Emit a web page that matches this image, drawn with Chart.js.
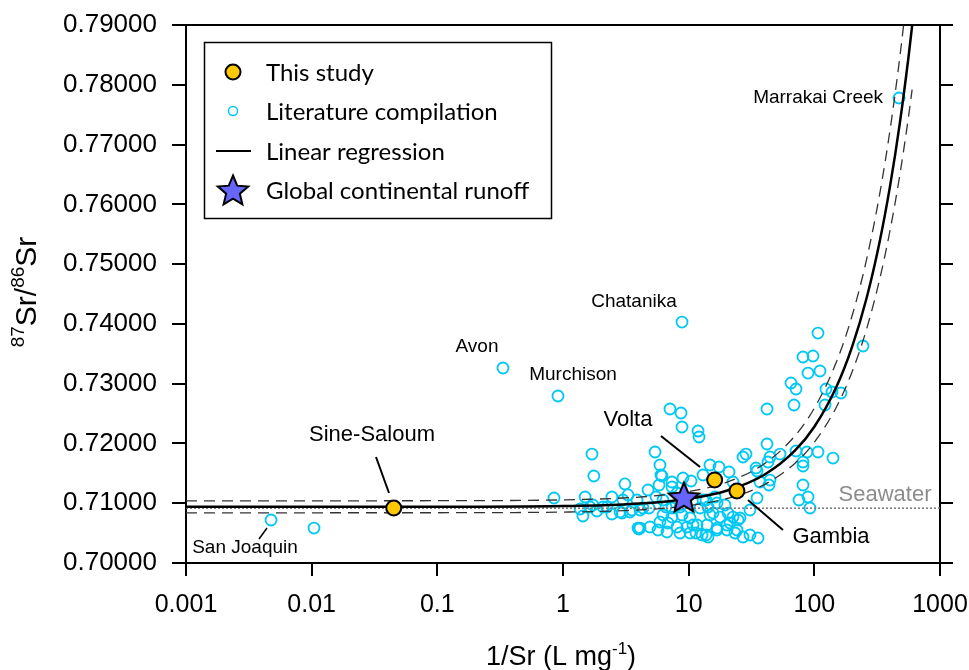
<!DOCTYPE html>
<html>
<head>
<meta charset="utf-8">
<script src="https://cdn.jsdelivr.net/npm/chart.js@4.4.1/dist/chart.umd.min.js"></script>
<style>
  html, body { margin: 0; padding: 0; background: #fff; }
  #wrap { width: 969px; height: 670px; }
</style>
</head>
<body>
<div id="wrap"><canvas id="grafico" width="969" height="670"></canvas></div>
<script>
// Eixos
const xTicks = [0.001, 0.01, 0.1, 1, 10, 100, 1000];
const yTicks = [0.70, 0.71, 0.72, 0.73, 0.74, 0.75, 0.76, 0.77, 0.78, 0.79];

// This study
const estudoNomes = ['Sine-Saloum', 'Volta', 'Gambia'];
const estudoX = [0.045, 16.1, 24.2];
const estudoY = [0.70920, 0.71389, 0.71205];

// Global continental runoff
const runoffX = [9.16];
const runoffY = [0.71104];

// Literature compilation (1/Sr, 87Sr/86Sr)
const litX = [
  0.00475, 0.01044, 0.333, 0.912, 8.85, 472, 0.848, 1.50, 1.70, 1.76,
  1.37, 1.44, 1.73, 1.86, 2.08, 2.45, 2.95, 3.11, 3.29, 3.88,
  4.10, 4.75, 4.83, 5.50, 5.40, 5.91, 6.13, 6.25, 7.10, 8.69,
  8.85, 11.87, 12.09, 7.37, 9.01, 10.44, 7.37, 8.08, 4.33, 3.54,
  4.10, 4.92, 5.91, 6.85, 8.08, 9.70, 11.65, 13.99, 16.81, 20.18,
  12.77, 14.25, 6.72, 5.70, 8.53, 10.25, 7.37, 6.25, 8.85, 10.25,
  12.31, 14.25, 16.81, 19.45, 14.78, 17.76, 16.20, 13.00, 7.37, 8.53,
  6.60, 14.78, 17.43, 13.00, 20.94, 22.53, 27.06, 28.59, 34.35, 34.98,
  42.01, 42.01, 42.79, 44.39, 53.31, 43.58, 44.39, 36.94, 34.98, 30.76,
  25.61, 22.53, 21.33, 20.18, 23.37, 27.06, 35.62, 30.76, 24.25, 16.81,
  13.74, 11.44, 4.02, 24.70, 15.62, 20.56, 13.74, 10.83, 71.46, 81.23,
  89.05, 75.49, 92.37, 140.8, 106.9, 87.4, 81.23, 81.23, 106.9, 81.23,
  97.6, 89.05, 110.9, 243.9, 65.2, 71.46, 123.8, 163.0, 138.2, 68.9,
  121.6, 2.84, 3.41, 3.95, 3.00, 2.24, 1.64, 6.02, 5.81, 2.45
];
const litY = [
  0.70719, 0.70585, 0.73262, 0.72794, 0.74031, 0.77779, 0.71087, 0.71104, 0.71823, 0.71455,
  0.70903, 0.70786, 0.70970, 0.70870, 0.70937, 0.70820, 0.70836, 0.71322, 0.71138, 0.71054,
  0.70887, 0.71221, 0.70920, 0.71104, 0.71857, 0.71639, 0.71455, 0.71054, 0.72576, 0.72509,
  0.72275, 0.72208, 0.72108, 0.71355, 0.71422, 0.71372, 0.71271, 0.71171, 0.70920, 0.70887,
  0.70585, 0.70602, 0.70686, 0.70669, 0.70602, 0.70602, 0.70636, 0.70636, 0.70585, 0.70636,
  0.70468, 0.70435, 0.70519, 0.70552, 0.70502, 0.70502, 0.70769, 0.70803, 0.70803, 0.70753,
  0.70920, 0.70937, 0.71004, 0.70970, 0.70803, 0.70769, 0.71104, 0.71054, 0.70920, 0.70937,
  0.70937, 0.71639, 0.71606, 0.71472, 0.71522, 0.71355, 0.71773, 0.71823, 0.71589, 0.71539,
  0.71991, 0.72576, 0.71690, 0.71773, 0.71823, 0.71305, 0.71388, 0.71355, 0.71087, 0.70887,
  0.70753, 0.70769, 0.70669, 0.70552, 0.70502, 0.70435, 0.70418, 0.70468, 0.70552, 0.70552,
  0.70468, 0.70502, 0.70569, 0.70719, 0.70836, 0.70836, 0.71054, 0.70636, 0.71874, 0.71305,
  0.71104, 0.71054, 0.70920, 0.71756, 0.71857, 0.71857, 0.71690, 0.71623, 0.73847, 0.73446,
  0.73463, 0.73178, 0.73212, 0.73630, 0.73011, 0.72911, 0.72911, 0.72844, 0.72861, 0.72643,
  0.72643, 0.70853, 0.70853, 0.70585, 0.71054, 0.70937, 0.70937, 0.71472, 0.71305, 0.71104
];

// Linear regression
const regX = [0.001, 0.1, 1, 3, 6, 10, 20, 40, 70, 100, 150, 200, 260, 330, 400, 480, 560, 620];
const regY = [0.70940, 0.70941, 0.70953, 0.70980, 0.71020, 0.71074, 0.71208, 0.71476, 0.71878,
              0.72280, 0.72950, 0.73620, 0.74424, 0.75362, 0.76300, 0.77372, 0.78444, 0.79248];
// Intervalo de confiança (tracejado)
const bandaX = [0.001, 0.1, 1, 3, 6, 10, 20, 40, 70, 100, 150, 200, 260, 330, 400, 480, 560, 600];
const bandaSup = [0.71040, 0.71042, 0.71056, 0.71087, 0.71133, 0.71195, 0.71350, 0.71660, 0.72125,
                  0.72590, 0.73365, 0.74140, 0.75070, 0.76155, 0.77240, 0.78480, 0.79720, 0.80340];
const bandaInf = [0.70840, 0.70841, 0.70852, 0.70875, 0.70911, 0.70958, 0.71076, 0.71312, 0.71666,
                  0.72020, 0.72610, 0.73200, 0.73908, 0.74734, 0.75560, 0.76504, 0.77448, 0.77920];

// Seawater
const marX = [0.001, 1000];
const marY = [0.70917, 0.70917];

const FONTE = '"Liberation Sans", Arial, sans-serif';
const AMARELO = '#ffc800';
const CIANO = '#00c8f5';
const AZUL = '#6666ff';

function pares(xs, ys) {
    return xs.map((v, i) => ({ x: v, y: ys[i] }));
}

// Estrela de 5 pontas como pointStyle
function criarEstrela(r) {
    const s = Math.ceil(r * 2 + 4);
    const c = document.createElement('canvas');
    c.width = s; c.height = s;
    const g = c.getContext('2d');
    g.beginPath();
    for (let i = 0; i < 10; i++) {
        const rad = i % 2 === 0 ? r : r * 0.45;
        const a = -Math.PI / 2 + i * Math.PI / 5;
        g.lineTo(s / 2 + rad * Math.cos(a), s / 2 + 1.5 + rad * Math.sin(a));
    }
    g.closePath();
    g.fillStyle = AZUL;
    g.fill();
    g.lineWidth = 2;
    g.lineJoin = 'miter';
    g.strokeStyle = '#000';
    g.stroke();
    return c;
}
const estrela = criarEstrela(16);

// Rótulos no gráfico (posição em unidades dos dados)
const rotulos = [
    { t: 'Marrakai Creek', x: 352, y: 0.77779, tam: 19, alinh: 'right' },
    { t: 'Chatanika', x: 3.67, y: 0.74366, tam: 19 },
    { t: 'Avon', x: 0.2068, y: 0.73613, tam: 19 },
    { t: 'Murchison', x: 1.201, y: 0.73145, tam: 19 },
    { t: 'San Joaquin', x: 0.002947, y: 0.70251, tam: 19 },
    { t: 'Sine-Saloum', x: 0.03021, y: 0.72141, tam: 22 },
    { t: 'Volta', x: 3.29, y: 0.72392, tam: 22 },
    { t: 'Gambia', x: 135.7, y: 0.70435, tam: 22 },
    { t: 'Seawater', x: 365, y: 0.71138, tam: 22, cor: '#8c8c8c' }
];
const linhasGuia = [
    { x1: 0.004412, y1: 0.70585, x2: 0.003811, y2: 0.70401, w: 1.5 },
    { x1: 0.03251, y1: 0.71773, x2: 0.04124, y2: 0.71171, w: 2 },
    { x1: 6.02, y1: 0.72124, x2: 12.31, y2: 0.71606, w: 2 },
    { x1: 29.66, y1: 0.71054, x2: 56.3, y2: 0.70552, w: 2 }
];

function textoComposto(ctx, partes, cx, base, grande, pequeno, subida) {
    let total = 0;
    partes.forEach(p => {
        ctx.font = `${p.sup ? pequeno : grande}px ${FONTE}`;
        p.w = ctx.measureText(p.t).width;
        total += p.w;
    });
    let xx = cx - total / 2;
    ctx.textAlign = 'left';
    ctx.textBaseline = 'alphabetic';
    partes.forEach(p => {
        ctx.font = `${p.sup ? pequeno : grande}px ${FONTE}`;
        ctx.fillText(p.t, xx, p.sup ? base - subida : base);
        xx += p.w;
    });
}

const desenhos = {
    id: 'desenhos',
    afterDatasetsDraw(chart) {
        const { ctx, scales: { x, y } } = chart;
        ctx.save();
        ctx.strokeStyle = '#000';
        linhasGuia.forEach(l => {
            ctx.lineWidth = l.w;
            ctx.beginPath();
            ctx.moveTo(x.getPixelForValue(l.x1), y.getPixelForValue(l.y1));
            ctx.lineTo(x.getPixelForValue(l.x2), y.getPixelForValue(l.y2));
            ctx.stroke();
        });
        ctx.textBaseline = 'middle';
        rotulos.forEach(r => {
            ctx.font = `${r.tam}px ${FONTE}`;
            ctx.fillStyle = r.cor || '#000';
            ctx.textAlign = r.alinh || 'center';
            ctx.fillText(r.t, x.getPixelForValue(r.x), y.getPixelForValue(r.y));
        });
        ctx.restore();
    },
    afterDraw(chart) {
        const { ctx, chartArea } = chart;
        ctx.save();
        // Legenda
        const lx = chartArea.left + 18, ly = chartArea.top + 17;
        ctx.fillStyle = '#fff';
        ctx.fillRect(lx, ly, 347, 176);
        ctx.lineWidth = 1.5;
        ctx.strokeStyle = '#000';
        ctx.strokeRect(lx + 0.5, ly + 0.5, 347, 176);
        const mx = lx + 29, tx = lx + 62;
        const itens = ['This study', 'Literature compilation', 'Linear regression', 'Global continental runoff'];
        const ys = [ly + 30, ly + 69, ly + 109, ly + 148];
        // símbolos
        ctx.beginPath();
        ctx.arc(mx, ys[0], 7.5, 0, Math.PI * 2);
        ctx.fillStyle = AMARELO; ctx.fill();
        ctx.lineWidth = 2; ctx.stroke();
        ctx.beginPath();
        ctx.arc(mx, ys[1], 4.5, 0, Math.PI * 2);
        ctx.strokeStyle = CIANO; ctx.lineWidth = 1.5; ctx.stroke();
        ctx.beginPath();
        ctx.moveTo(mx - 17, ys[2]); ctx.lineTo(mx + 18, ys[2]);
        ctx.strokeStyle = '#000'; ctx.lineWidth = 2; ctx.stroke();
        ctx.drawImage(estrela, mx - estrela.width / 2, ys[3] - estrela.height / 2);
        ctx.fillStyle = '#000';
        ctx.font = '24px Lato, "Open Sans", sans-serif';
        ctx.textAlign = 'left';
        ctx.textBaseline = 'middle';
        itens.forEach((t, i) => ctx.fillText(t, tx, ys[i] + 1));

        // Títulos dos eixos
        ctx.fillStyle = '#000';
        textoComposto(ctx, [{ t: '1/Sr (L mg' }, { t: '-1', sup: true }, { t: ')' }],
            561, 665, 27, 17, 11);
        ctx.translate(36, 292);
        ctx.rotate(-Math.PI / 2);
        textoComposto(ctx, [{ t: '87', sup: true }, { t: 'Sr/' }, { t: '86', sup: true }, { t: 'Sr' }],
            0, 0, 30, 19, 12);
        ctx.restore();
    }
};

const eixoComum = {
    grid: { drawOnChartArea: false, color: '#000', lineWidth: 2, tickLength: 13 },
    border: { color: '#000', width: 2 }
};

// zera o espaço extra que o Chart.js reserva para os rótulos das pontas
function semPadding(a) {
    a.paddingLeft = 0; a.paddingRight = 0; a.paddingTop = 0; a.paddingBottom = 0;
}

new Chart(document.getElementById('grafico'), {
    type: 'scatter',
    data: {
        datasets: [
            {
                label: 'Literature compilation',
                data: pares(litX, litY),
                pointStyle: 'circle', pointRadius: 5.5, pointBorderWidth: 1.8,
                pointBorderColor: CIANO, pointBackgroundColor: 'rgba(0,0,0,0)',
                order: 6
            },
            {
                label: 'Seawater',
                data: pares(marX, marY),
                showLine: true, pointRadius: 0, borderColor: '#777', borderWidth: 1.5,
                borderDash: [2, 2], order: 5
            },
            {
                label: 'Upper',
                data: pares(bandaX, bandaSup),
                showLine: true, pointRadius: 0, borderColor: '#333', borderWidth: 1.3,
                borderDash: [11, 7], cubicInterpolationMode: 'monotone', order: 4
            },
            {
                label: 'Lower',
                data: pares(bandaX, bandaInf),
                showLine: true, pointRadius: 0, borderColor: '#333', borderWidth: 1.3,
                borderDash: [11, 7], cubicInterpolationMode: 'monotone', order: 4
            },
            {
                label: 'Linear regression',
                data: pares(regX, regY),
                showLine: true, pointRadius: 0, borderColor: '#000', borderWidth: 2.5,
                cubicInterpolationMode: 'monotone', order: 3
            },
            {
                label: 'This study',
                data: pares(estudoX, estudoY),
                pointRadius: 7.5, pointBorderWidth: 2, pointBorderColor: '#000',
                pointBackgroundColor: AMARELO, order: 2
            },
            {
                label: 'Global continental runoff',
                data: pares(runoffX, runoffY),
                pointStyle: estrela, order: 1
            }
        ]
    },
    options: {
        responsive: false,
        devicePixelRatio: 1,
        animation: false,
        events: [],
        layout: { padding: { left: 0, right: 15, top: 25, bottom: 0 } },
        plugins: { legend: { display: false }, tooltip: { enabled: false } },
        scales: {
            x: {
                type: 'logarithmic', position: 'bottom', min: 0.001, max: 1000,
                ...eixoComum,
                grid: { ...eixoComum.grid, tickLength: 13 },
                afterBuildTicks: a => { a.ticks = xTicks.map(v => ({ value: v })); },
                afterFit: a => { a.height = 107; semPadding(a); },
                ticks: {
                    color: '#000', padding: 14, maxRotation: 0, autoSkip: false,
                    font: { family: FONTE, size: 25 },
                    callback: v => String(v)
                }
            },
            xTopo: {
                type: 'logarithmic', position: 'top', min: 0.001, max: 1000,
                grid: { display: false },
                border: { color: '#000', width: 2 },
                ticks: { display: false },
                afterFit: a => { a.height = 0; semPadding(a); }
            },
            y: {
                type: 'linear', position: 'left', min: 0.70, max: 0.79,
                ...eixoComum,
                grid: { ...eixoComum.grid, tickLength: 14 },
                afterBuildTicks: a => { a.ticks = yTicks.map(v => ({ value: v })); },
                afterFit: a => { a.width = 186; semPadding(a); },
                ticks: {
                    color: '#000', padding: 15,
                    font: { family: FONTE, size: 26 },
                    callback: v => v.toFixed(5)
                }
            },
            yDir: {
                type: 'linear', position: 'right', min: 0.70, max: 0.79,
                ...eixoComum,
                afterBuildTicks: a => { a.ticks = yTicks.map(v => ({ value: v })); },
                afterFit: a => { a.width = 14; semPadding(a); },
                ticks: { display: false }
            }
        }
    },
    plugins: [desenhos]
});
</script>
</body>
</html>
